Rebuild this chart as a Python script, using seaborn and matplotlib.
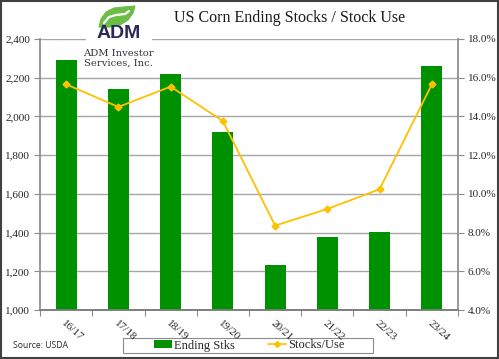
import matplotlib
matplotlib.use("Agg")
import matplotlib.pyplot as plt
import seaborn as sns
import numpy as np
from matplotlib.patches import Rectangle, Patch, Polygon
from matplotlib.lines import Line2D
from matplotlib.ticker import FuncFormatter, MultipleLocator

categories = ["16/17", "17/18", "18/19", "19/20", "20/21", "21/22", "22/23", "23/24"]
ending_stocks = [2293, 2140, 2221, 1919, 1235, 1377, 1405, 2262]
stocks_use = [15.66, 14.49, 15.54, 13.76, 8.36, 9.22, 10.24, 15.66]

sns.set_theme(style="white")
plt.rcParams["font.family"] = ["Liberation Serif", "DejaVu Serif"]

W, H = 499, 359
fig = plt.figure(figsize=(W / 100, H / 100), dpi=100)
ax = fig.add_axes([40 / W, 1 - 310 / H, 418 / W, 271 / H])
ax.set_zorder(2)

green = "#009100"
gold = "#FFC000"
grid_c = "#A6A6A6"
txt_c = "#262626"

sns.barplot(x=categories, y=ending_stocks, ax=ax, color=green, width=0.4,
            saturation=1, edgecolor="none", zorder=3)
ax.set_xlim(-0.5, 7.5)
ax.set_ylim(1000, 2400)
ax.yaxis.set_major_locator(MultipleLocator(200))
ax.yaxis.set_major_formatter(FuncFormatter(lambda v, p: f"{int(v):,}"))
ax.grid(axis="y", color=grid_c, linewidth=1.0, zorder=0)
ax.set_axisbelow(True)
ax.set_xlabel("")
ax.set_ylabel("")

ax2 = ax.twinx()
ax2.set_zorder(3)
sns.pointplot(x=categories, y=stocks_use, ax=ax2, color=gold, markers="D",
              markersize=3.5, linewidth=1.3, errorbar=None)
ax2.set_ylim(4, 18)
ax2.set_xlim(-0.5, 7.5)
ax2.yaxis.set_major_locator(MultipleLocator(2))
ax2.yaxis.set_major_formatter(FuncFormatter(lambda v, p: f"{v:.1f}%"))
ax2.set_ylabel("")
ax2.set_xlabel("")
ax2.grid(False)

for a in (ax, ax2):
    a.spines["top"].set_visible(False)
    a.spines["left"].set_color("#8C8C8C")
    a.spines["right"].set_color("#8C8C8C")
    a.spines["bottom"].set_color("#7F7F7F")
    a.patch.set_alpha(0)
ax2.spines["left"].set_visible(False)
ax.spines["right"].set_visible(False)

ax.tick_params(axis="y", which="major", left=True, length=4, width=0.8,
               color="#8C8C8C", labelsize=8, labelcolor=txt_c, pad=3)
ax2.tick_params(axis="y", which="major", right=True, length=4, width=0.8,
                color="#8C8C8C", labelsize=8, labelcolor=txt_c, pad=3)

# x ticks: marks at category boundaries, labels at centers
ax.set_xticks(np.arange(len(categories)))
ax.set_xticklabels(categories, rotation=-42, ha="left", rotation_mode="anchor",
                   fontsize=8, color=txt_c)
ax.tick_params(axis="x", which="major", length=0, pad=6)
ax.set_xticks(np.arange(-0.5, len(categories) + 0.5, 1), minor=True)
ax.tick_params(axis="x", which="minor", bottom=True, length=4, width=0.8, color="#8C8C8C")
ax2.tick_params(axis="x", bottom=False, top=False, labelbottom=False)

# title
fig.text(290 / W, 1 - 18 / H, "US Corn Ending Stocks / Stock Use", ha="center", va="center",
         fontsize=11.5, color="#1a1a1a")

# logo
fig.patches.append(Rectangle((86 / W, 1 - 72 / H), 66 / W, 70 / H, transform=fig.transFigure,
                             facecolor="white", edgecolor="none", zorder=4))
leaf_pts = [(99, 27), (101, 19), (106, 12), (114, 8), (124, 7), (135, 6),
            (133, 13), (128, 20), (120, 25), (110, 27)]
leaf = Polygon([(x / W, 1 - y / H) for x, y in leaf_pts], closed=True,
               transform=fig.transFigure, facecolor="#6CBD45", edgecolor="#6CBD45",
               linewidth=0.8, zorder=5)
fig.patches.append(leaf)
vein = [(104, 23), (109, 17), (116, 15), (125, 14), (129, 11)]
fig.lines.append(Line2D([x / W for x, y in vein], [1 - y / H for x, y in vein],
                        transform=fig.transFigure, color="white", linewidth=1.6, zorder=6))
fig.text(119 / W, 1 - 34 / H, "ADM", ha="center", va="center", fontsize=14,
         fontweight="bold", color="#2A2A5A", family=["Liberation Sans", "DejaVu Sans"], zorder=6)
fig.text(118.5 / W, 1 - 58.5 / H, "ADM Investor\nServices, Inc.", ha="center", va="center",
         fontsize=7.2, color="#333340", family=["DejaVu Serif"], linespacing=1.05, zorder=6)

# source
fig.text(13 / W, 1 - 346 / H, "Source: USDA", ha="left", va="center", fontsize=6.2,
         color=txt_c, family=["Open Sans", "DejaVu Sans"])

# legend frame + legend
fig.patches.append(Rectangle((123 / W, 1 - 353 / H), 250 / W, 15 / H, transform=fig.transFigure,
                             facecolor="white", edgecolor="#8C8C8C", linewidth=0.8, zorder=-1))
handles = [Patch(facecolor=green, edgecolor="none"),
           Line2D([], [], color=gold, marker="D", markersize=3, linewidth=1.2)]
leg = fig.legend(handles, ["Ending Stks", "Stocks/Use"], ncol=2,
                 bbox_to_anchor=(249 / W, 1 - 345.5 / H), loc="center",
                 frameon=False, fontsize=9, handlelength=1.5, handleheight=0.6,
                 handletextpad=0.15, borderpad=0.0, columnspacing=2.6)
for t in leg.get_texts():
    t.set_color(txt_c)

# outer frame
fig.patches.append(Rectangle((0.002, 0.003), 0.996, 0.994, transform=fig.transFigure,
                             facecolor="none", edgecolor="#404040", linewidth=1.5, zorder=10))

fig.savefig("out.png", dpi=100)
